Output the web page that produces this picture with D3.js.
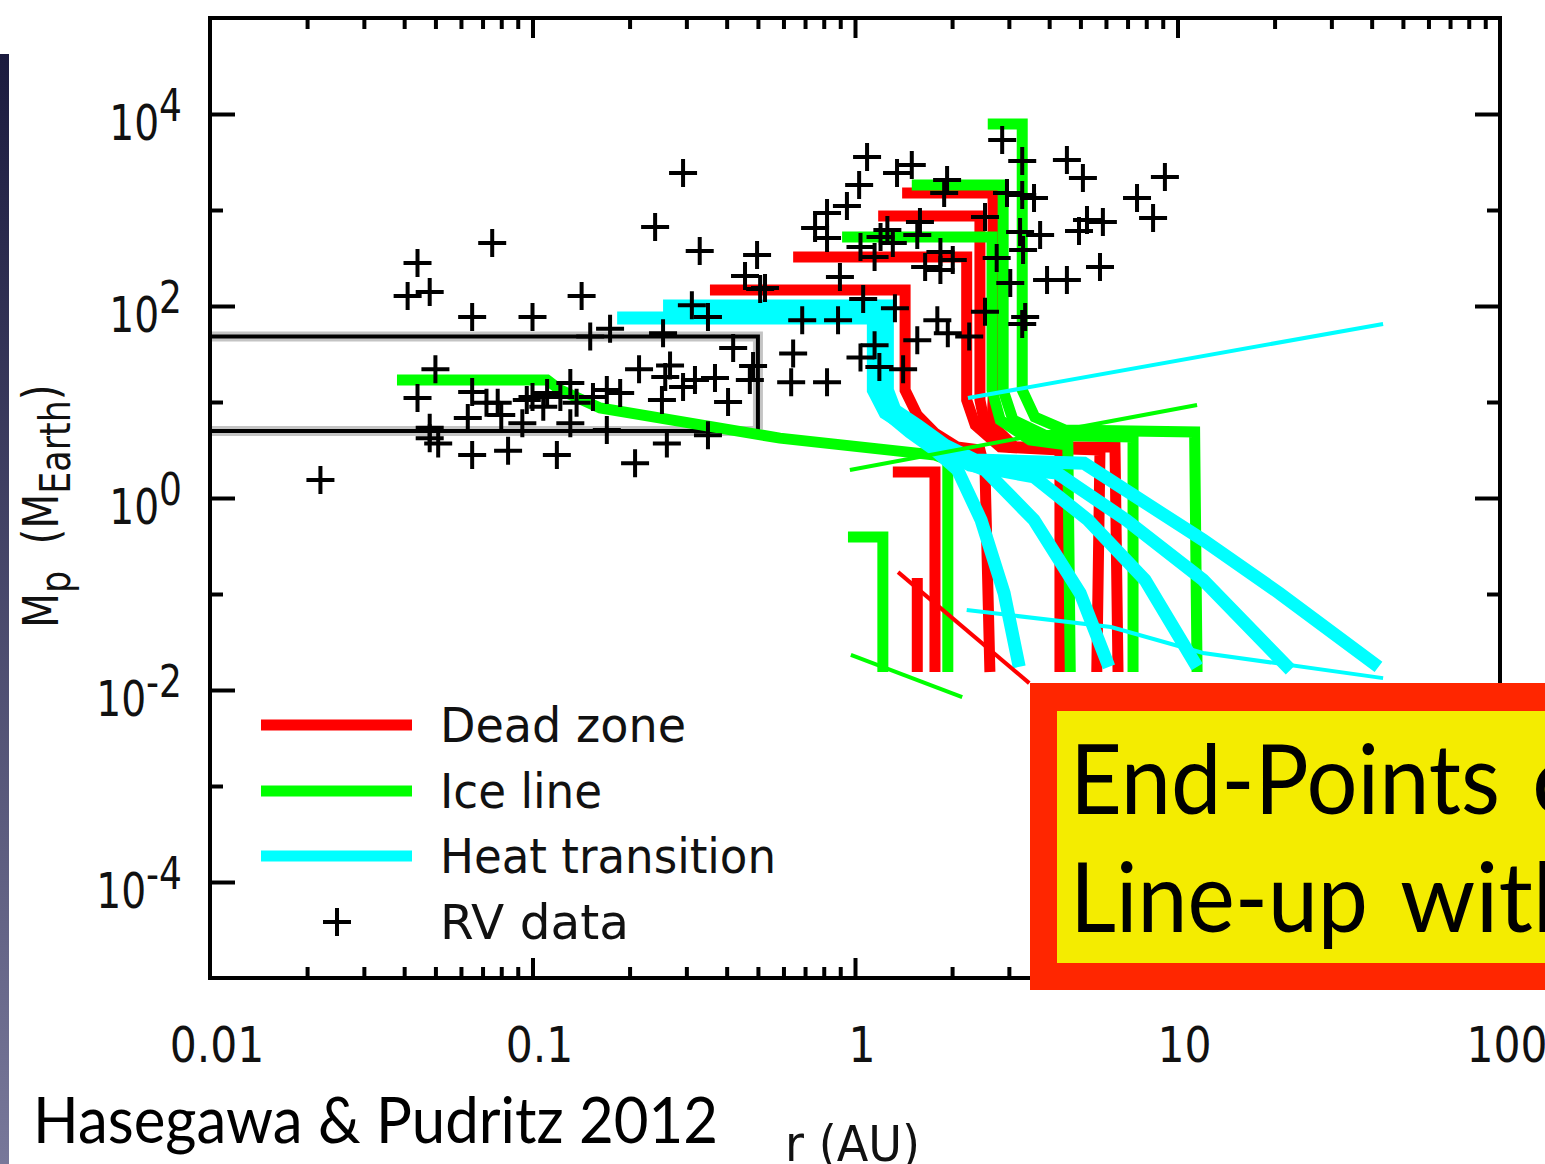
<!DOCTYPE html>
<html>
<head>
<meta charset="utf-8">
<script src="https://cdn.jsdelivr.net/npm/d3@7"></script>
<style>
  body { margin: 0; background: #fff; }
  svg { display: block; }
</style>
</head>
<body>
<div id="chart"></div>
<script>
// values: r in AU, Mp in Earth masses
const xTicks = [0.01, 0.1, 1, 10, 100];
const xTickLabels = ["0.01", "0.1", "1", "10", "100"];
const yMajor = [1e-4, 1e-2, 1, 1e2, 1e4];
const yMajorExp = ["-4", "-2", "0", "2", "4"];
const yMinor = [1e-3, 1e-1, 10, 1e3];
const legendNames = ["Dead zone", "Ice line", "Heat transition", "RV data"];
const legendColours = ["#ff0000", "#00ff00", "#00ffff"];

// planet tracks, one array of [r, Mp] per planet
const deadZone = [
  [[2.62, 0.0154], [2.53, 1.96], [2.44, 3.16], [2.07, 3.40], [1.77, 4.75], [1.56, 7.3], [1.43, 13.3], [1.43, 147], [0.355, 147]],
  [[4.32, 0.0154], [4.32, 3.16], [2.82, 3.40], [2.36, 5.75], [2.22, 10.5], [2.22, 324], [0.643, 324]],
  [[5.62, 0.0154], [5.75, 3.16], [3.03, 3.40], [2.53, 5.75], [2.44, 10.5], [2.44, 866], [1.18, 866]],
  [[6.54, 0.0154], [6.40, 3.40], [3.13, 3.40], [2.66, 5.75], [2.68, 10.5], [2.68, 1500], [1.40, 1500]],
  [[1.77, 0.0154], [1.77, 1.87], [1.31, 1.87]],
  [[1.56, 0.0154], [1.56, 0.147]],
];
const iceLine = [
  [[11.5, 0.0154], [11.3, 4.87], [4.48, 5.1], [3.61, 6.98], [3.30, 13.3], [3.30, 7870], [2.58, 7870]],
  [[7.28, 0.0154], [7.28, 4.32], [3.88, 4.5], [3.09, 6.49], [2.88, 13.3], [2.88, 1820], [1.50, 1820]],
  [[4.65, 0.0154], [4.57, 3.56], [3.49, 4.02], [2.82, 6.49], [2.66, 13.3], [2.66, 524], [0.912, 524]],
  [[1.94, 0.0154], [1.94, 2.49], [1.77, 2.8], [0.585, 4.2], [0.162, 8.66], [0.122, 13.3], [0.111, 16.9], [0.038, 16.9]],
  [[1.22, 0.0154], [1.22, 0.393], [0.951, 0.393]],
];
const heatTransition = [
  [[42.0, 0.0174], [20.7, 0.102], [12.0, 0.365], [5.13, 2.3], [2.36, 2.49], [1.90, 3.56], [1.56, 5.75], [1.33, 8.25], [1.26, 13.3], [1.26, 100], [0.254, 100]],
  [[22.4, 0.0162], [12.0, 0.140], [6.93, 0.590], [4.23, 1.82], [2.36, 2.21], [1.84, 3.16], [1.50, 5.1], [1.24, 7.68], [1.14, 13.3], [1.14, 75], [0.183, 75]],
  [[11.5, 0.0174], [7.93, 0.140], [5.28, 0.590], [3.59, 1.66], [2.27, 2.21], [1.84, 3.16], [1.50, 5.1], [1.28, 7.87], [1.20, 13.3], [1.20, 87], [0.308, 87]],
  [[6.13, 0.0174], [4.99, 0.102], [3.59, 0.590], [2.53, 1.96], [2.12, 2.49], [1.77, 3.40], [1.48, 5.1], [1.26, 7.87], [1.18, 13.3], [1.18, 82.5], [0.381, 82.5]],
  [[3.23, 0.0174], [2.90, 0.102], [2.46, 0.590], [2.08, 1.96], [1.77, 3.16], [1.48, 4.87], [1.28, 7.3], [1.21, 13.3], [1.21, 90.8], [0.508, 90.8]],
];

// the thin lines (trap positions)
const thinDead = [[[1.36, 0.169], [3.47, 0.0118]]];
const thinIce = [
  [[0.964, 1.96], [11.5, 9.31]],
  [[0.971, 0.0232], [2.15, 0.00845]],
];
const thinHeat = [
  [[2.24, 11.0], [43.4, 65]],
  [[2.22, 0.068], [6.22, 0.0453], [12.0, 0.0243], [43.4, 0.0133]],
];

// the grey box around the hot neptunes
const boxR = [0.01, 0.5];
const boxM = [5, 48];

// RV planets
const rvData = [
  [0.293, 2430], [0.240, 665], [0.075, 453], [0.330, 374], [0.497, 340], [0.044, 281], [0.456, 205], [0.508, 150], [0.526, 154],
  [0.041, 127], [0.048, 140], [0.142, 127], [0.065, 77], [0.100, 77], [0.312, 102], [0.350, 77], [0.174, 58], [0.151, 48], [0.254, 52], [0.419, 36.5],
  [0.050, 22], [0.214, 22], [0.267, 24], [0.258, 18.2], [0.483, 23.7], [0.472, 16.9], [0.319, 16.9], [0.368, 17.8], [0.293, 14.3],
  [0.044, 11.0], [0.065, 12.7], [0.078, 9.8], [0.404, 10], [0.252, 10.5], [0.063, 6.8], [0.080, 7.3], [0.093, 6.0], [0.131, 6.0], [0.170, 5.1],
  [0.048, 5.4], [0.048, 4.2], [0.051, 3.7], [0.350, 4.5], [0.261, 3.7], [0.065, 2.8], [0.084, 3.1], [0.119, 2.8], [0.208, 2.3],
  [0.100, 11.3], [0.111, 12.4], [0.122, 11.3], [0.131, 15.8], [0.137, 9.8], [0.154, 11.3], [0.170, 13.3], [0.187, 12.4], [0.108, 8.9], [0.096, 10.5], [0.072, 9.8],
  [0.022, 1.54],
  [1.09, 3560], [1.35, 2430], [1.50, 2940], [1.03, 1820], [0.944, 1100], [0.819, 931], [0.752, 649], [0.819, 511],
  [2.86, 5360], [3.30, 3240], [4.54, 3320], [5.09, 2150], [9.14, 2210], [7.49, 1330], [8.40, 826],
  [1.93, 2050], [1.89, 1500], [2.96, 1500], [3.30, 1430], [3.59, 1330], [2.53, 845], [1.59, 750], [1.56, 549],
  [5.24, 787], [5.87, 750], [4.95, 604], [3.25, 590], [3.75, 549], [1.20, 524], [1.31, 453], [1.26, 619], [1.04, 412], [1.15, 324],
  [1.84, 365], [2.01, 301], [1.65, 255], [1.84, 237], [2.75, 316], [3.32, 383], [3.03, 174], [3.94, 187], [4.54, 187], [5.75, 255],
  [0.898, 200], [1.06, 118], [1.33, 95], [2.53, 87], [3.37, 77], [3.30, 65], [0.686, 71], [0.886, 71], [1.80, 71], [1.94, 52], [2.26, 48],
  [0.643, 32], [1.56, 44], [1.04, 29], [1.15, 39], [1.19, 23.2], [1.41, 22], [0.819, 16.1], [0.634, 16.1],
];

const width = 1545;
const height = 1164;
const plot = { left: 210, right: 1500, top: 18, bottom: 978 };

const svg = d3
  .select("#chart")
  .append("svg")
  .attr("width", width)
  .attr("height", height)
  .style("font-family", "'DejaVu Sans', Verdana, sans-serif");

const x = d3.scaleLog().domain([0.01, 100]).range([plot.left, plot.right]);
const y = d3.scaleLog().domain([1e-5, 1e5]).range([plot.bottom, plot.top]);

const line = d3
  .line()
  .x((d) => x(d[0]))
  .y((d) => y(d[1]));

drawSlideEdge();
drawBox();
drawTracks(deadZone, legendColours[0], 11);
drawTracks(iceLine, legendColours[1], 11);
drawTracks(heatTransition, legendColours[2], 13);
drawTracks(thinDead, legendColours[0], 4);
drawTracks(thinIce, legendColours[1], 4);
drawTracks(thinHeat, legendColours[2], 4);
drawCrosses();
drawFrame();
drawLegend();
drawLabels();
drawCallout();

/**
 * dark strip at the left edge of the slide
 */
function drawSlideEdge() {
  const grad = svg
    .append("defs")
    .append("linearGradient")
    .attr("id", "edge")
    .attr("x1", 0)
    .attr("y1", 0)
    .attr("x2", 0)
    .attr("y2", 1);
  grad.append("stop").attr("offset", "0%").attr("stop-color", "#1b1b3e");
  grad.append("stop").attr("offset", "100%").attr("stop-color", "#78789a");

  svg
    .append("rect")
    .attr("x", 0)
    .attr("y", 54)
    .attr("width", 9)
    .attr("height", height - 54)
    .attr("fill", "url(#edge)");
}

function drawBox() {
  const pts = [
    [boxR[0], boxM[1]],
    [boxR[1], boxM[1]],
    [boxR[1], boxM[0]],
    [boxR[0], boxM[0]],
  ];
  // grey halo first, then the black line on top
  svg.append("path").attr("d", line(pts)).attr("fill", "none")
    .attr("stroke", "#c4c4c4").attr("stroke-width", 10);
  svg.append("path").attr("d", line(pts)).attr("fill", "none")
    .attr("stroke", "#000").attr("stroke-width", 4);
}

function drawTracks(tracks, colour, strokeWidth) {
  svg
    .append("g")
    .selectAll("path")
    .data(tracks)
    .enter()
    .append("path")
    .attr("d", line)
    .attr("fill", "none")
    .attr("stroke", colour)
    .attr("stroke-width", strokeWidth)
    .attr("stroke-linejoin", "miter")
    .attr("stroke-linecap", "butt");
}

function crossPath(s) {
  return `M${-s},0H${s}M0,${-s}V${s}`;
}

function drawCrosses() {
  svg
    .append("g")
    .selectAll("path")
    .data(rvData)
    .enter()
    .append("path")
    .attr("transform", (d) => `translate(${x(d[0])},${y(d[1])})`)
    .attr("d", crossPath(14))
    .attr("stroke", "#000")
    .attr("stroke-width", 4);
}

/**
 * frame + inward ticks on all four sides
 */
function drawFrame() {
  const xMinor = x.ticks().filter((v) => !xTicks.some((t) => Math.abs(t - v) < v * 1e-6));
  const xMajorInner = xTicks.slice(1, -1);

  const axes = [
    [d3.axisBottom(x).tickValues(xMajorInner).tickSize(-20), `translate(0,${plot.bottom})`],
    [d3.axisBottom(x).tickValues(xMinor).tickSize(-11), `translate(0,${plot.bottom})`],
    [d3.axisTop(x).tickValues(xMajorInner).tickSize(-20), `translate(0,${plot.top})`],
    [d3.axisTop(x).tickValues(xMinor).tickSize(-11), `translate(0,${plot.top})`],
    [d3.axisLeft(y).tickValues(yMajor).tickSize(-25), `translate(${plot.left},0)`],
    [d3.axisLeft(y).tickValues(yMinor).tickSize(-13), `translate(${plot.left},0)`],
    [d3.axisRight(y).tickValues(yMajor).tickSize(-25), `translate(${plot.right},0)`],
    [d3.axisRight(y).tickValues(yMinor).tickSize(-13), `translate(${plot.right},0)`],
  ];
  axes.forEach(([axis, tr]) => {
    const g = svg.append("g").attr("transform", tr).call(axis.tickFormat(""));
    g.select(".domain").remove();
    g.selectAll("line").attr("stroke", "#000").attr("stroke-width", 4);
  });

  svg
    .append("rect")
    .attr("x", plot.left)
    .attr("y", plot.top)
    .attr("width", plot.right - plot.left)
    .attr("height", plot.bottom - plot.top)
    .attr("fill", "none")
    .attr("stroke", "#000")
    .attr("stroke-width", 4);
}

function drawLegend() {
  const rowY = [725, 791, 856, 922];
  const textLen = [246, 162, 336, 189];
  const g = svg.append("g");

  legendColours.forEach((c, i) => {
    g.append("line")
      .attr("x1", 261)
      .attr("x2", 412)
      .attr("y1", rowY[i])
      .attr("y2", rowY[i])
      .attr("stroke", c)
      .attr("stroke-width", 11);
  });
  g.append("path")
    .attr("transform", `translate(337,${rowY[3]})`)
    .attr("d", crossPath(14))
    .attr("stroke", "#000")
    .attr("stroke-width", 4);

  legendNames.forEach((name, i) => {
    g.append("text")
      .attr("x", 440)
      .attr("y", rowY[i] + 17)
      .attr("font-size", 48)
      .attr("fill", "#111")
      .attr("textLength", textLen[i])
      .attr("lengthAdjust", "spacingAndGlyphs")
      .text(name);
  });
}

function drawLabels() {
  // y tick labels 10^n
  yMajor.forEach((v, i) => {
    const t = svg
      .append("text")
      .attr("transform", `translate(182,${y(v) + 26}) scale(0.8,1)`)
      .attr("text-anchor", "end")
      .attr("font-size", 49)
      .attr("fill", "#111");
    t.append("tspan").text("10");
    t.append("tspan").attr("dy", -19).attr("font-size", 45).text(yMajorExp[i]);
  });

  // x tick labels sit well below the frame
  xTicks.forEach((v, i) => {
    svg
      .append("text")
      .attr("transform", `translate(${x(v) + 7},1062) scale(0.85,1)`)
      .attr("text-anchor", "middle")
      .attr("font-size", 50)
      .attr("fill", "#111")
      .text(xTickLabels[i]);
  });

  svg
    .append("text")
    .attr("x", 785)
    .attr("y", 1161)
    .attr("font-size", 50)
    .attr("fill", "#111")
    .attr("textLength", 135)
    .attr("lengthAdjust", "spacingAndGlyphs")
    .text("r (AU)");

  // rotated y title with subscripts
  const yt = svg
    .append("text")
    .attr("transform", "translate(58,628) rotate(-90) scale(0.83,1)")
    .attr("font-size", 49)
    .attr("fill", "#111");
  yt.append("tspan").text("M");
  yt.append("tspan").attr("dy", 12).attr("font-size", 42).text("p");
  yt.append("tspan").attr("dy", -12).attr("dx", 16).text(" (M");
  yt.append("tspan").attr("dy", 12).attr("font-size", 42).text("Earth");
  yt.append("tspan").attr("dy", -12).text(")");

  svg
    .append("text")
    .attr("x", 33)
    .attr("y", 1143)
    .attr("font-family", "Lato, 'Open Sans', sans-serif")
    .attr("font-size", 64)
    .attr("fill", "#000")
    .attr("textLength", 685)
    .attr("lengthAdjust", "spacingAndGlyphs")
    .text("Hasegawa & Pudritz 2012");
}

/**
 * red/yellow callout box that runs off the right edge of the slide
 */
function drawCallout() {
  svg.append("rect").attr("x", 1030).attr("y", 683).attr("width", 540).attr("height", 307).attr("fill", "#ff2600");
  svg.append("rect").attr("x", 1057).attr("y", 711).attr("width", 520).attr("height", 252).attr("fill", "#f4ec00");

  const font = "Lato, 'Open Sans', sans-serif";
  const pieces = [
    ["End-Points", 1070, 814, 430],
    ["of", 1532, 814, null],
    ["Line-up", 1070, 932, 298],
    ["with", 1400, 932, null],
  ];
  pieces.forEach(([txt, tx, ty, len]) => {
    const t = svg
      .append("text")
      .attr("x", tx)
      .attr("y", ty)
      .attr("font-family", font)
      .attr("font-size", 96)
      .attr("fill", "#000")
      .text(txt);
    if (len) t.attr("textLength", len).attr("lengthAdjust", "spacingAndGlyphs");
  });
}
</script>
</body>
</html>
